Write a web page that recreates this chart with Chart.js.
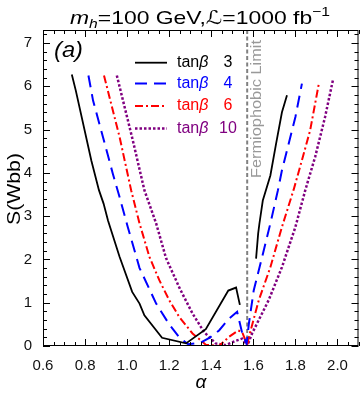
<!DOCTYPE html>
<html>
<head>
<meta charset="utf-8">
<script src="https://cdn.jsdelivr.net/npm/chart.js@4.4.1/dist/chart.umd.min.js"></script>
<style>
  html, body { margin: 0; padding: 0; background: #fff; }
  #wrap { width: 360px; height: 394px; }
</style>
</head>
<body>
<div id="wrap"><canvas id="c" width="360" height="394"></canvas></div>
<script>
// values
const tanBetaLabels = ['3', '4', '6', '10'];

const alpha3 = [0.737, 0.756, 0.83, 0.866, 0.888, 0.909, 0.964, 1.024, 1.059, 1.082, 1.166, 1.28, 1.374, 1.481, 1.518, 1.536, 1.57, 1.613, 1.623, 1.629, 1.645, 1.681, 1.708, 1.736, 1.76];
const sTan3  = [6.27, 5.9, 4.28, 3.6, 3.29, 2.9, 2.06, 1.25, 0.98, 0.71, 0.19, 0.06, 0.39, 1.28, 1.35, 0.95, null, 2.02, 2.6, 2.83, 3.36, 3.94, 4.67, 5.4, 5.79];

const alpha4 = [0.816, 0.838, 0.885, 0.932, 0.964, 1.003, 1.059, 1.138, 1.2, 1.248, 1.29, 1.35, 1.395, 1.437, 1.484, 1.523, 1.547, 1.568, 1.579, 1.602, 1.642, 1.681, 1.717, 1.736, 1.768, 1.8, 1.831];
const sTan4  = [6.25, 5.67, 4.83, 3.98, 3.44, 2.75, 1.8, 0.98, 0.5, 0.2, 0.04, 0.08, 0.2, 0.36, 0.63, 0.79, 0.3, 0.05, 0.52, 1.29, 2.06, 2.83, 3.6, 4.06, 4.67, 5.29, 6.06];

const alpha6 = [0.89, 0.964, 1.019, 1.059, 1.106, 1.153, 1.2, 1.248, 1.311, 1.374, 1.437, 1.484, 1.528, 1.547, 1.566, 1.571, 1.579, 1.626, 1.681, 1.736, 1.791, 1.831, 1.87, 1.913];
const sTan6  = [6.25, 4.83, 3.6, 2.83, 2.06, 1.52, 1.06, 0.67, 0.29, 0.03, 0.0, 0.21, 0.36, 0.32, 0.09, 0.0, 0.21, 1.06, 1.82, 2.75, 3.6, 4.29, 4.98, 6.1];

const alpha10 = [0.951, 1.027, 1.082, 1.138, 1.185, 1.25, 1.311, 1.366, 1.421, 1.468, 1.516, 1.547, 1.571, 1.594, 1.673, 1.736, 1.8, 1.847, 1.894, 1.941, 1.98];
const sTan10  = [6.25, 4.75, 3.6, 2.83, 2.03, 1.33, 0.75, 0.32, 0.06, 0.02, 0.12, 0.17, 0.0, 0.29, 1.06, 1.82, 2.75, 3.6, 4.37, 5.29, 6.18];

const fermiAlpha = Math.PI / 2;
const xMin = 0.6, xMax = 2.1, yMin = 0, yMax = 7.3;

function pts(xs, ys) {
  return xs.map((x, i) => ({ x: x, y: ys[i] }));
}

const seriesStyle = [
  { color: '#000000', dash: [], width: 1.8 },
  { color: '#0000ff', dash: [12, 7], width: 2 },
  { color: '#ff0000', dash: [8, 3, 2, 3], width: 2 },
  { color: '#800080', dash: [2.5, 2], width: 2.5 }
];

const seriesData = [pts(alpha3, sTan3), pts(alpha4, sTan4), pts(alpha6, sTan6), pts(alpha10, sTan10)];

const datasets = seriesData.map((d, i) => ({
  label: 'tanβ ' + tanBetaLabels[i],
  data: d,
  borderColor: seriesStyle[i].color,
  borderDash: seriesStyle[i].dash,
  borderWidth: seriesStyle[i].width,
  pointRadius: 0,
  tension: 0,
  fill: false,
  spanGaps: false
}));

// fermiophobic limit line
datasets.push({
  label: 'fermio',
  data: [{ x: fermiAlpha, y: yMin }, { x: fermiAlpha, y: yMax }],
  borderColor: '#808080',
  borderDash: [4, 2.5],
  borderWidth: 2,
  pointRadius: 0,
  fill: false
});

function stretchText(ctx, txt, x, y, target) {
  const w = ctx.measureText(txt).width;
  ctx.save();
  ctx.translate(x, y);
  ctx.scale(target / w, 1);
  ctx.fillText(txt, 0, 0);
  ctx.restore();
}

const decorPlugin = {
  id: 'decor',
  afterDraw(chart) {
    const ctx = chart.ctx;
    const a = chart.chartArea;
    const xs = chart.scales.x, ys = chart.scales.y;
    ctx.save();

    // frame
    ctx.strokeStyle = '#000';
    ctx.lineWidth = 1;
    ctx.setLineDash([]);
    ctx.strokeRect(a.left + 0.5, a.top + 0.5, a.right - a.left - 1, a.bottom - a.top - 1);

    // ticks on all four sides, pointing inward
    ctx.beginPath();
    for (let k = 0; k <= 30; k++) {
      const v = xMin + k * 0.05;
      if (v > xMax + 1e-9) break;
      const px = Math.round(xs.getPixelForValue(v)) + 0.5;
      const len = (k % 4 === 0) ? 7 : 4;
      ctx.moveTo(px, a.bottom); ctx.lineTo(px, a.bottom - len);
      ctx.moveTo(px, a.top); ctx.lineTo(px, a.top + len);
    }
    for (let k = 0; k <= 40; k++) {
      const v = k * 0.2;
      if (v > yMax + 1e-9) break;
      const py = Math.round(ys.getPixelForValue(v)) + 0.5;
      const len = (k % 5 === 0) ? 7 : 4;
      ctx.moveTo(a.left, py); ctx.lineTo(a.left + len, py);
      ctx.moveTo(a.right, py); ctx.lineTo(a.right - len, py);
    }
    ctx.stroke();

    // title
    ctx.fillStyle = '#000';
    ctx.textBaseline = 'alphabetic';
    const runs = [
      { t: 'm', f: 'italic 19px "Liberation Sans"', dy: 0 },
      { t: 'h', f: 'italic 13px "Liberation Sans"', dy: 4 },
      { t: '=100 GeV,', f: '19px "Liberation Sans"', dy: 0 },
      { t: 'ℒ', f: 'italic 19px "DejaVu Sans"', dy: 0 },
      { t: '=1000 fb', f: '19px "Liberation Sans"', dy: 0 },
      { t: '−1', f: '13px "Liberation Sans"', dy: -8 }
    ];
    let total = 0;
    runs.forEach(r => { ctx.font = r.f; r.w = ctx.measureText(r.t).width; total += r.w; });
    const tLeft = 70, tWidth = 260, base = 23.5;
    const sx = tWidth / total;
    ctx.save();
    ctx.translate(tLeft, base);
    ctx.scale(sx, 1);
    let cx = 0;
    runs.forEach(r => { ctx.font = r.f; ctx.fillText(r.t, cx, r.dy); cx += r.w; });
    ctx.restore();

    // panel label
    ctx.font = 'italic 22px "Liberation Sans"';
    ctx.textAlign = 'left';
    stretchText(ctx, '(a)', 54, 57, 29);

    // y axis title
    ctx.save();
    ctx.translate(20, 189);
    ctx.rotate(-Math.PI / 2);
    ctx.font = '18px "Liberation Sans"';
    ctx.textAlign = 'left';
    ctx.textBaseline = 'alphabetic';
    const yt = 'S(Wbb)';
    const ytw = ctx.measureText(yt).width;
    ctx.scale(72 / ytw, 1);
    ctx.fillText(yt, -ytw / 2, 0);
    ctx.restore();

    // x axis title
    ctx.font = 'italic 19px "Liberation Sans"';
    ctx.textAlign = 'center';
    ctx.fillText('α', 201, 388);

    // fermiophobic label
    ctx.save();
    const fx = xs.getPixelForValue(fermiAlpha) + 10;
    ctx.translate(fx, 178);
    ctx.rotate(-Math.PI / 2);
    ctx.font = '15px "Liberation Sans"';
    ctx.fillStyle = '#999999';
    ctx.textAlign = 'left';
    ctx.textBaseline = 'middle';
    const ft = 'Fermiophobic Limit';
    const fw = ctx.measureText(ft).width;
    ctx.scale(138 / fw, 1);
    ctx.fillText(ft, 0, 0);
    ctx.restore();

    // legend
    const rows = [62.7, 83.5, 106, 128.5];
    tanBetaLabels.forEach((lab, i) => {
      const st = seriesStyle[i];
      const y = rows[i];
      ctx.strokeStyle = st.color;
      ctx.lineWidth = st.width;
      ctx.setLineDash(st.dash);
      ctx.beginPath();
      ctx.moveTo(135, y); ctx.lineTo(167, y);
      ctx.stroke();
      ctx.setLineDash([]);
      ctx.fillStyle = st.color;
      ctx.textBaseline = 'middle';
      ctx.textAlign = 'left';
      ctx.font = '16px "Liberation Sans"';
      ctx.fillText('tan', 177, y);
      const tw = ctx.measureText('tan').width;
      ctx.font = 'italic 16px "Liberation Sans"';
      ctx.fillText('β', 177 + tw, y);
      ctx.font = '16px "Liberation Sans"';
      ctx.textAlign = 'center';
      ctx.fillText(lab, 228, y);
    });

    ctx.restore();
  }
};

new Chart(document.getElementById('c'), {
  type: 'line',
  data: { datasets: datasets },
  options: {
    responsive: false,
    animation: false,
    layout: { padding: { left: 0, top: 30, right: 1.5, bottom: 0 } },
    plugins: { legend: { display: false }, tooltip: { enabled: false } },
    scales: {
      x: {
        type: 'linear',
        min: xMin, max: xMax,
        grid: { display: false },
        border: { display: false },
        ticks: {
          stepSize: 0.2,
          includeBounds: false,
          maxRotation: 0,
          padding: 3,
          color: '#111',
          font: { family: 'Liberation Sans', size: 15 },
          callback: v => (v > 2.05 ? '' : v.toFixed(1))
        },
        afterFit: s => { s.height = 48; }
      },
      y: {
        type: 'linear',
        min: yMin, max: yMax,
        grid: { display: false },
        border: { display: false },
        ticks: {
          stepSize: 1,
          includeBounds: false,
          padding: 3,
          color: '#111',
          font: { family: 'Liberation Sans', size: 15 },
          callback: v => String(Math.round(v))
        },
        afterFit: s => { s.width = 43; }
      }
    }
  },
  plugins: [decorPlugin]
});
</script>
</body>
</html>
